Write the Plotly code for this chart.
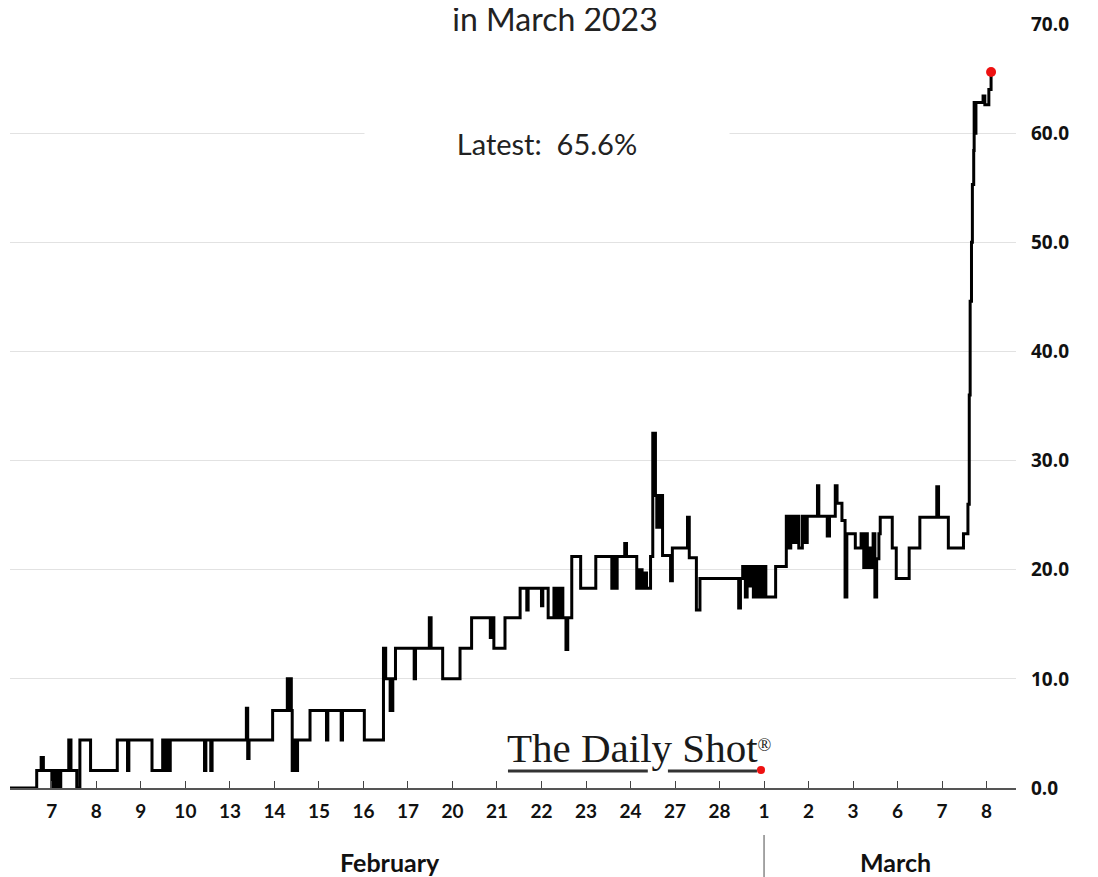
import plotly.graph_objects as go

# trading-day labels along the x axis (position = index in this list)
day_labels = ["7", "8", "9", "10", "13", "14", "15", "16", "17", "20", "21",
              "22", "23", "24", "27", "28", "1", "2", "3", "6", "7", "8"]

# intraday probability series (%), x in trading-day units, drawn as steps
x_pos = [-0.94, -0.34, -0.24, -0.19, 0.00, 0.04, 0.08, 0.12, 0.16, 0.20,
         0.38, 0.43, 0.56, 0.63, 0.87, 1.47, 1.70, 1.73, 2.25, 2.49,
         2.52, 2.55, 2.58, 2.61, 2.64, 2.66, 3.43, 3.46, 3.57, 3.60,
         4.37, 4.40, 4.43, 4.96, 5.29, 5.32, 5.35, 5.38, 5.40, 5.43,
         5.46, 5.52, 5.80, 6.17, 6.20, 6.50, 6.53, 7.02, 7.45, 7.50,
         7.60, 7.66, 7.72, 8.14, 8.17, 8.48, 8.52, 8.78, 9.17, 9.43,
         9.85, 9.88, 9.93, 10.18, 10.52, 10.67, 10.70, 11.00, 11.03, 11.15,
         11.28, 11.32, 11.36, 11.40, 11.44, 11.48, 11.55, 11.59, 11.68, 11.88,
         12.22, 12.58, 12.62, 12.66, 12.70, 12.87, 12.91, 13.14, 13.20, 13.26,
         13.32, 13.36, 13.45, 13.50, 13.56, 13.59, 13.62, 13.65, 13.68, 13.72,
         13.90, 13.94, 14.28, 14.32, 14.48, 14.56, 15.43, 15.47, 15.52, 15.58,
         15.62, 15.66, 15.70, 15.76, 15.80, 15.86, 15.90, 15.96, 16.00, 16.04,
         16.26, 16.50, 16.55, 16.60, 16.66, 16.72, 16.78, 16.86, 16.92, 16.97,
         17.20, 17.23, 17.42, 17.47, 17.60, 17.64, 17.75, 17.82, 17.86, 18.05,
         18.18, 18.24, 18.28, 18.32, 18.36, 18.40, 18.45, 18.49, 18.53, 18.58,
         18.61, 18.88, 18.97, 19.26, 19.50, 19.88, 19.92, 20.14, 20.48, 20.58,
         20.61, 20.63, 20.66, 20.68, 20.71, 20.72, 20.74, 20.76, 20.92, 20.96,
         21.05, 21.10]
prob = [0.0, 1.6, 2.8, 1.6, 0.0, 1.6, 0.0, 1.6, 0.0, 1.6,
        4.4, 1.6, 0.0, 4.4, 1.6, 4.4, 1.6, 4.4, 1.6, 4.4,
        1.6, 4.4, 1.6, 4.4, 1.6, 4.4, 1.6, 4.4, 1.6, 4.4,
        7.3, 2.7, 4.4, 7.1, 10.0, 7.1, 10.0, 7.1, 1.6, 4.4,
        1.6, 4.4, 7.1, 4.4, 7.1, 4.4, 7.1, 4.4, 12.8, 10.0,
        7.1, 10.0, 12.8, 10.0, 12.8, 15.6, 12.8, 10.0, 12.8, 15.6,
        13.8, 15.6, 12.8, 15.6, 18.3, 16.3, 18.3, 16.7, 18.3, 15.6,
        18.3, 15.6, 18.3, 15.6, 18.3, 15.6, 12.7, 15.6, 21.2, 18.3,
        21.2, 18.3, 21.2, 18.3, 21.2, 22.4, 21.2, 18.3, 20.0, 18.3,
        19.7, 18.3, 21.2, 32.5, 26.8, 23.9, 26.8, 23.9, 26.8, 21.3,
        19.0, 22.0, 24.8, 21.1, 16.3, 19.2, 16.5, 19.2, 20.3, 17.5,
        20.3, 18.5, 20.3, 17.5, 20.3, 17.5, 20.3, 17.5, 20.3, 17.5,
        20.3, 24.9, 22.0, 24.9, 22.5, 24.9, 22.0, 24.9, 22.5, 24.9,
        27.7, 24.9, 23.1, 24.9, 27.7, 26.1, 24.5, 17.5, 23.3, 22.0,
        23.3, 20.2, 23.3, 20.2, 22.0, 20.2, 23.3, 17.5, 21.0, 23.3,
        24.8, 22.0, 19.2, 22.0, 24.8, 27.6, 24.8, 22.0, 23.3, 26.0,
        36.0, 44.6, 50.0, 55.3, 58.4, 62.8, 60.0, 62.8, 63.4, 62.6,
        64.0, 65.6]

y_ticks = [0, 10, 20, 30, 40, 50, 60, 70]

fig = go.Figure()

fig.add_trace(go.Scatter(
    x=x_pos, y=prob, mode="lines", line_shape="hv",
    line=dict(color="black", width=3), hoverinfo="skip"))

# latest value marker
fig.add_trace(go.Scatter(
    x=[x_pos[-1]], y=[prob[-1]], mode="markers",
    marker=dict(color="#ee1111", size=10), hoverinfo="skip"))

fig.update_xaxes(
    range=[-0.94, 21.66], automargin=False,
    tickmode="array", tickvals=list(range(len(day_labels))),
    ticktext=["<b>%s</b>" % t for t in day_labels],
    ticks="inside", ticklen=7, tickwidth=1.2, tickcolor="#444",
    showline=True, linecolor="#555", linewidth=2,
    showgrid=False, zeroline=False,
    tickfont=dict(family="Lato", size=19, color="#111"),
    ticklabelstandoff=5)

fig.update_yaxes(
    range=[0, 70], side="right", automargin=False,
    tickmode="array", tickvals=y_ticks,
    ticktext=["<b>%.1f</b>" % v for v in y_ticks],
    showgrid=True, gridcolor="#e2e2e2", gridwidth=1,
    zeroline=False, showline=False, ticks="",
    tickfont=dict(family="Open Sans", size=19, color="#111"),
    ticklabelstandoff=14)

# title (boxed in white, hides the gridline behind it)
fig.add_annotation(
    text="in March 2023", xref="paper", yref="paper", x=0.5417, y=1.0079,
    xanchor="center", yanchor="middle", showarrow=False,
    font=dict(family="Lato", size=32, color="#222"),
    bgcolor="white", width=720, height=28)

fig.add_annotation(
    text="Latest:  65.6%", xref="paper", yref="paper", x=0.5338, y=0.8442,
    xanchor="center", yanchor="middle", showarrow=False,
    font=dict(family="Lato", size=29, color="#222"),
    bgcolor="white", width=362, height=36)

# month labels and separator
fig.add_annotation(
    text="<b>February</b>", xref="paper", yref="paper", x=0.3777, y=-0.0969,
    xanchor="center", yanchor="middle", showarrow=False,
    font=dict(family="Lato", size=25, color="#111"))
fig.add_annotation(
    text="<b>March</b>", xref="paper", yref="paper", x=0.8807, y=-0.0969,
    xanchor="center", yanchor="middle", showarrow=False,
    font=dict(family="Lato", size=25, color="#111"))
fig.add_shape(type="line", xref="x", yref="paper", x0=16, x1=16,
              y0=-0.0615, y1=-0.1165, line=dict(color="#888", width=1.5))

# watermark
fig.add_annotation(
    text="The Daily Shot<span style='font-size:26px'><sup>®</sup></span>",
    xref="paper", yref="paper",
    x=0.626, y=0.0524, xanchor="center", yanchor="middle", showarrow=False,
    font=dict(family="Liberation Serif", size=41, color="#1a1a1a"))
fig.add_shape(type="line", xref="paper", yref="paper", x0=0.495, x1=0.634,
              y0=0.02225, y1=0.02225, line=dict(color="#333", width=3))
fig.add_shape(type="line", xref="paper", yref="paper", x0=0.654, x1=0.7425,
              y0=0.02225, y1=0.02225, line=dict(color="#333", width=3))
fig.add_shape(type="circle", xref="paper", yref="paper",
              x0=0.7425, x1=0.7505, y0=0.0184, y1=0.0288,
              fillcolor="#ee1111", line=dict(width=0))

# the page body adds an 8px margin, so the figure is 8px smaller than the window
fig.update_layout(
    width=1090, height=869,
    margin=dict(l=2, r=82, t=16, b=89),
    paper_bgcolor="white", plot_bgcolor="white",
    showlegend=False)

fig.write_html("out.html")
